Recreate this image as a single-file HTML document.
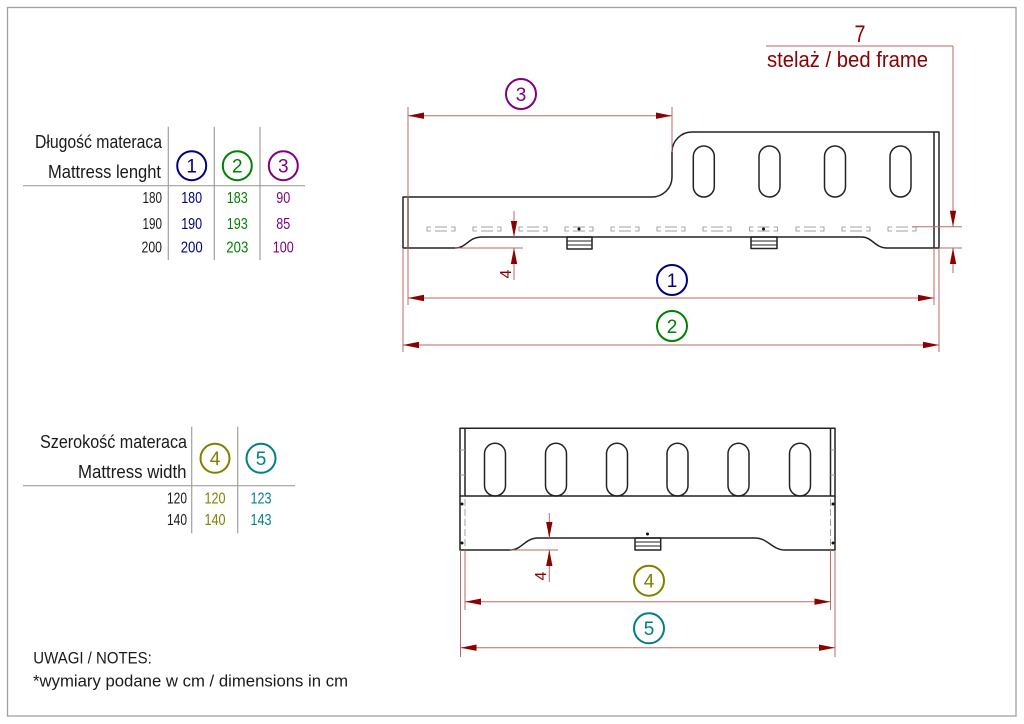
<!DOCTYPE html>
<html>
<head>
<meta charset="utf-8">
<style>
html,body{margin:0;padding:0;background:#fff;}
svg{display:block;}
text{font-family:"Liberation Sans Narrow","Liberation Sans",sans-serif;}
</style>
</head>
<body>
<svg width="1024" height="724" viewBox="0 0 1024 724" xmlns="http://www.w3.org/2000/svg">
<defs>
  <g id="mk" fill="none" stroke="#8a8a8a" stroke-width="0.8">
    <path d="M4 0 L0 0 L0 4 L4 4"/>
    <path d="M24 0 L28 0 L28 4 L24 4"/>
    <line x1="8" y1="0" x2="20" y2="0"/>
    <line x1="8" y1="4" x2="20" y2="4"/>
  </g>
</defs>
<rect x="0" y="0" width="1024" height="724" fill="#fff"/>
<!-- page border -->
<rect x="7.5" y="7.5" width="1008.5" height="708.5" fill="none" stroke="#a0a0a0" stroke-width="1.3"/>

<!-- ===== TABLE 1 ===== -->
<g fill="#1a1a1a" font-size="18.5">
  <text x="35" y="148" textLength="127" lengthAdjust="spacingAndGlyphs">Długość materaca</text>
  <text x="48" y="178" textLength="113" lengthAdjust="spacingAndGlyphs">Mattress lenght</text>
</g>
<line x1="23" y1="185.7" x2="305" y2="185.7" stroke="#a0a0a0" stroke-width="1.2"/>
<g stroke="#a0a0a0" stroke-width="1.2">
  <line x1="168.3" y1="126.7" x2="168.3" y2="260"/>
  <line x1="214.3" y1="126.7" x2="214.3" y2="260"/>
  <line x1="260" y1="126.7" x2="260" y2="260"/>
</g>
<g fill="none" stroke-width="2">
  <circle cx="191.7" cy="165.7" r="14.5" stroke="#000080"/>
  <circle cx="237.3" cy="165.7" r="14.5" stroke="#008000"/>
  <circle cx="283.3" cy="165.7" r="14.5" stroke="#800080"/>
</g>
<g font-size="19" text-anchor="middle">
  <text x="191.7" y="172.5" fill="#000080">1</text>
  <text x="237.3" y="172.5" fill="#008000">2</text>
  <text x="283.3" y="172.5" fill="#800080">3</text>
</g>
<g font-size="15.5">
  <g fill="#1a1a1a" text-anchor="end">
    <text x="162" y="203" textLength="19.5" lengthAdjust="spacingAndGlyphs">180</text>
    <text x="162" y="229" textLength="19.5" lengthAdjust="spacingAndGlyphs">190</text>
    <text x="162" y="252.5" textLength="20.5" lengthAdjust="spacingAndGlyphs">200</text>
  </g>
  <g fill="#000080" text-anchor="middle">
    <text x="191.7" y="203" textLength="21" lengthAdjust="spacingAndGlyphs">180</text>
    <text x="191.7" y="229" textLength="21" lengthAdjust="spacingAndGlyphs">190</text>
    <text x="191.7" y="252.5" textLength="22" lengthAdjust="spacingAndGlyphs">200</text>
  </g>
  <g fill="#008000" text-anchor="middle">
    <text x="237.3" y="203" textLength="21" lengthAdjust="spacingAndGlyphs">183</text>
    <text x="237.3" y="229" textLength="21" lengthAdjust="spacingAndGlyphs">193</text>
    <text x="237.3" y="252.5" textLength="22" lengthAdjust="spacingAndGlyphs">203</text>
  </g>
  <g fill="#800080" text-anchor="middle">
    <text x="283.3" y="203" textLength="14" lengthAdjust="spacingAndGlyphs">90</text>
    <text x="283.3" y="229" textLength="14" lengthAdjust="spacingAndGlyphs">85</text>
    <text x="283.3" y="252.5" textLength="21" lengthAdjust="spacingAndGlyphs">100</text>
  </g>
</g>

<!-- ===== TABLE 2 ===== -->
<g fill="#1a1a1a" font-size="18.5">
  <text x="40" y="448" textLength="147" lengthAdjust="spacingAndGlyphs">Szerokość materaca</text>
  <text x="78" y="478" textLength="108.5" lengthAdjust="spacingAndGlyphs">Mattress width</text>
</g>
<line x1="23" y1="485.7" x2="295" y2="485.7" stroke="#a0a0a0" stroke-width="1.2"/>
<g stroke="#a0a0a0" stroke-width="1.2">
  <line x1="191.7" y1="426.7" x2="191.7" y2="533.3"/>
  <line x1="237.7" y1="426.7" x2="237.7" y2="533.3"/>
</g>
<g fill="none" stroke-width="2">
  <circle cx="215" cy="458.3" r="14.5" stroke="#808000"/>
  <circle cx="261" cy="458.3" r="14.5" stroke="#008080"/>
</g>
<g font-size="19" text-anchor="middle">
  <text x="215" y="465" fill="#808000">4</text>
  <text x="261" y="465" fill="#008080">5</text>
</g>
<g font-size="15.5">
  <g fill="#1a1a1a" text-anchor="end">
    <text x="187" y="503.3" textLength="20" lengthAdjust="spacingAndGlyphs">120</text>
    <text x="187" y="525" textLength="20" lengthAdjust="spacingAndGlyphs">140</text>
  </g>
  <g fill="#808000" text-anchor="middle">
    <text x="215" y="503.3" textLength="21" lengthAdjust="spacingAndGlyphs">120</text>
    <text x="215" y="525" textLength="21" lengthAdjust="spacingAndGlyphs">140</text>
  </g>
  <g fill="#008080" text-anchor="middle">
    <text x="261" y="503.3" textLength="21" lengthAdjust="spacingAndGlyphs">123</text>
    <text x="261" y="525" textLength="21" lengthAdjust="spacingAndGlyphs">143</text>
  </g>
</g>

<!-- ===== NOTES ===== -->
<g fill="#1a1a1a" font-size="17">
  <text x="33.3" y="663.3" textLength="118.5" lengthAdjust="spacingAndGlyphs">UWAGI / NOTES:</text>
  <text x="33" y="686.7" textLength="315" lengthAdjust="spacingAndGlyphs">*wymiary podane w cm / dimensions in cm</text>
</g>

<!-- ===== TOP VIEW DRAWING ===== -->
<g fill="none" stroke="#222" stroke-width="1.5" stroke-linejoin="round">
  <path d="M408 197 L652 197 A20 20 0 0 0 672 177 L672 152 A20 20 0 0 1 692 132 L934 132"/>
  <path d="M934 248 L887 248 C875 248 872 237 862 237 L482 237 C468 237 467 248 455 248 L408 248"/>
  <rect x="403" y="197" width="5" height="51"/>
  <rect x="934" y="132" width="5" height="116"/>
  <rect x="693.3" y="146" width="21" height="51" rx="10.5"/>
  <rect x="759" y="146" width="21" height="51" rx="10.5"/>
  <rect x="824.5" y="146" width="21" height="51" rx="10.5"/>
  <rect x="890" y="146" width="21" height="51" rx="10.5"/>
  <rect x="567" y="237" width="25" height="12"/>
  <rect x="751" y="237" width="26" height="11.5"/>
</g>
<g stroke="#222" stroke-width="1">
  <line x1="567" y1="241" x2="592" y2="241"/>
  <line x1="567" y1="245" x2="592" y2="245"/>
  <line x1="751" y1="241" x2="777" y2="241"/>
  <line x1="751" y1="245" x2="777" y2="245"/>
</g>
<!-- slat markers -->
<use href="#mk" x="427" y="227"/>
<use href="#mk" x="473" y="227"/>
<use href="#mk" x="519" y="227"/>
<use href="#mk" x="565" y="227"/>
<use href="#mk" x="611" y="227"/>
<use href="#mk" x="657" y="227"/>
<use href="#mk" x="703" y="227"/>
<use href="#mk" x="749.5" y="227"/>
<use href="#mk" x="796" y="227"/>
<use href="#mk" x="842" y="227"/>
<use href="#mk" x="888" y="227"/>
<circle cx="579" cy="229" r="1.5" fill="#111"/>
<circle cx="763.5" cy="229" r="1.5" fill="#111"/>

<!-- ===== TOP VIEW DIMENSIONS ===== -->
<g stroke="#b86a6a" stroke-width="1" fill="none">
  <line x1="408" y1="107" x2="408" y2="305"/>
  <line x1="672" y1="107" x2="672" y2="152"/>
  <line x1="408" y1="115.7" x2="672" y2="115.7"/>
  <line x1="403" y1="248" x2="403" y2="352"/>
  <line x1="934" y1="248" x2="934" y2="305"/>
  <line x1="939" y1="248" x2="939" y2="352"/>
  <line x1="408" y1="298" x2="934" y2="298"/>
  <line x1="403" y1="345" x2="939" y2="345"/>
  <line x1="766" y1="46" x2="953" y2="46"/>
  <line x1="953" y1="46" x2="953" y2="226.7"/>
  <line x1="912" y1="226.7" x2="962" y2="226.7"/>
  <line x1="939" y1="248" x2="962" y2="248"/>
  <line x1="953" y1="248" x2="953" y2="273"/>
  <line x1="514" y1="211" x2="514" y2="237"/>
  <line x1="455" y1="248" x2="523" y2="248"/>
  <line x1="514" y1="248" x2="514" y2="280"/>
</g>
<g fill="#8b0000">
  <polygon points="408,115.7 424,112.5 424,118.9"/>
  <polygon points="672,115.7 656,112.5 656,118.9"/>
  <polygon points="408,298 424,294.8 424,301.2"/>
  <polygon points="934,298 918,294.8 918,301.2"/>
  <polygon points="403,345 419,341.8 419,348.2"/>
  <polygon points="939,345 923,341.8 923,348.2"/>
  <polygon points="953,226.7 949.8,210.7 956.2,210.7"/>
  <polygon points="953,248 949.8,264 956.2,264"/>
  <polygon points="514,237 510.8,221 517.2,221"/>
  <polygon points="514,248 510.8,264 517.2,264"/>
</g>
<text x="0" y="0" font-size="16" fill="#8b0000" text-anchor="middle" transform="translate(511,274) rotate(-90)">4</text>
<g fill="#8b0000">
  <text x="860" y="42" font-size="24" text-anchor="middle" textLength="11" lengthAdjust="spacingAndGlyphs">7</text>
  <text x="767" y="67" font-size="22" textLength="161" lengthAdjust="spacingAndGlyphs">stelaż / bed frame</text>
</g>
<g fill="none" stroke-width="2">
  <circle cx="521" cy="94" r="15" stroke="#800080"/>
  <circle cx="672" cy="280" r="15" stroke="#000080"/>
  <circle cx="672" cy="326" r="15" stroke="#008000"/>
</g>
<g font-size="19" text-anchor="middle">
  <text x="521" y="101" fill="#800080">3</text>
  <text x="672" y="287" fill="#000080">1</text>
  <text x="672" y="333" fill="#008000">2</text>
</g>

<!-- ===== FRONT VIEW DRAWING ===== -->
<g fill="none" stroke="#222" stroke-width="1.5" stroke-linejoin="round">
  <rect x="460" y="428.3" width="375" height="67.7"/>
  <line x1="465" y1="428.3" x2="465" y2="496"/>
  <line x1="830.5" y1="428.3" x2="830.5" y2="496"/>
  <path d="M460 496 L460 550 L510 550 C522 550 525 538 538 538 L755 538 C768 538 772 550 785 550 L835 550 L835 496"/>
  <rect x="484.5" y="443.3" width="21" height="52.7" rx="10.5"/>
  <rect x="545.5" y="443.3" width="21" height="52.7" rx="10.5"/>
  <rect x="606.5" y="443.3" width="21" height="52.7" rx="10.5"/>
  <rect x="667" y="443.3" width="21" height="52.7" rx="10.5"/>
  <rect x="728" y="443.3" width="21" height="52.7" rx="10.5"/>
  <rect x="789.5" y="443.3" width="21" height="52.7" rx="10.5"/>
  <rect x="635" y="538" width="25.7" height="12"/>
</g>
<g stroke="#222" stroke-width="1">
  <line x1="635" y1="542" x2="660.7" y2="542"/>
  <line x1="635" y1="546" x2="660.7" y2="546"/>
  <line x1="460" y1="450" x2="465" y2="450" stroke="#999"/>
  <line x1="460" y1="475" x2="465" y2="475" stroke="#999"/>
  <line x1="830.5" y1="450" x2="835" y2="450" stroke="#999"/>
  <line x1="830.5" y1="475" x2="835" y2="475" stroke="#999"/>
</g>
<g stroke="#888" stroke-width="0.8" stroke-dasharray="7,3">
  <line x1="465" y1="499" x2="465" y2="548"/>
  <line x1="830.5" y1="499" x2="830.5" y2="548"/>
</g>
<g fill="#111">
  <circle cx="462" cy="504" r="1.5"/>
  <circle cx="462" cy="543" r="1.5"/>
  <circle cx="833" cy="504" r="1.5"/>
  <circle cx="833" cy="543" r="1.5"/>
  <circle cx="647.5" cy="534" r="1.5"/>
</g>

<!-- ===== FRONT VIEW DIMENSIONS ===== -->
<g stroke="#b86a6a" stroke-width="1" fill="none">
  <line x1="460.5" y1="550" x2="460.5" y2="657"/>
  <line x1="465" y1="550" x2="465" y2="610"/>
  <line x1="830.5" y1="550" x2="830.5" y2="610"/>
  <line x1="835" y1="550" x2="835" y2="657"/>
  <line x1="465" y1="601.7" x2="830.5" y2="601.7"/>
  <line x1="460.5" y1="647.7" x2="835" y2="647.7"/>
  <line x1="549.3" y1="513" x2="549.3" y2="538"/>
  <line x1="510" y1="550" x2="558" y2="550"/>
  <line x1="549.3" y1="550" x2="549.3" y2="582"/>
</g>
<g fill="#8b0000">
  <polygon points="465,601.7 481,598.5 481,604.9"/>
  <polygon points="830.5,601.7 814.5,598.5 814.5,604.9"/>
  <polygon points="460.5,647.7 476.5,644.5 476.5,650.9"/>
  <polygon points="835,647.7 819,644.5 819,650.9"/>
  <polygon points="549.3,538 546.1,522 552.5,522"/>
  <polygon points="549.3,550 546.1,566 552.5,566"/>
</g>
<text x="0" y="0" font-size="16" fill="#8b0000" text-anchor="middle" transform="translate(546,576) rotate(-90)">4</text>
<g fill="none" stroke-width="2">
  <circle cx="649" cy="580.7" r="15" stroke="#808000"/>
  <circle cx="649" cy="628.3" r="15" stroke="#008080"/>
</g>
<g font-size="19" text-anchor="middle">
  <text x="649" y="587.5" fill="#808000">4</text>
  <text x="649" y="635" fill="#008080">5</text>
</g>
</svg>
</body>
</html>
